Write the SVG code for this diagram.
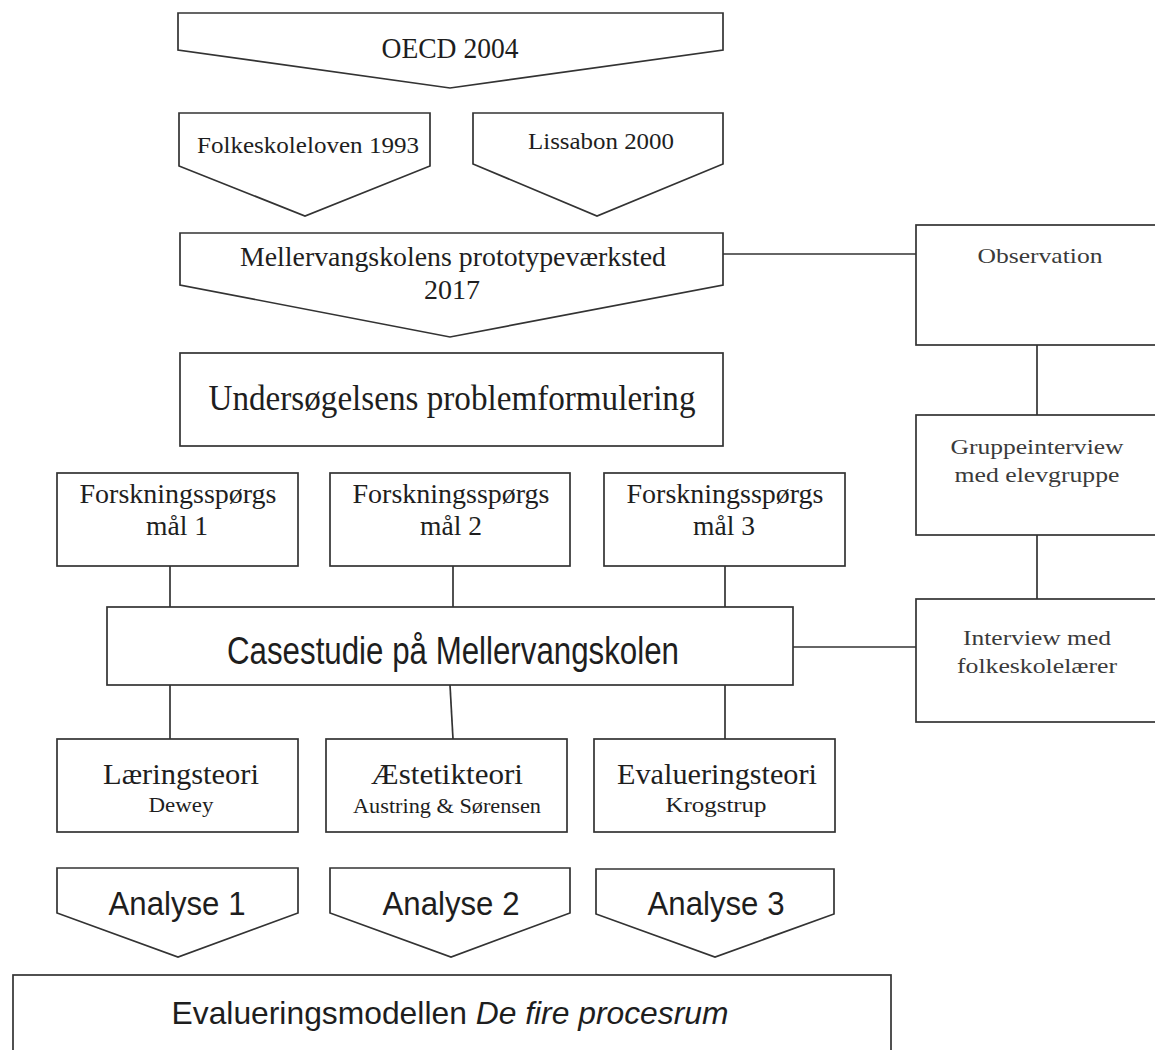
<svg xmlns="http://www.w3.org/2000/svg" width="1155" height="1050" viewBox="0 0 1155 1050">
  <style>
    .shape { fill: #ffffff; stroke: #333333; stroke-width: 1.7; stroke-linejoin: miter; }
    .link { fill: none; stroke: #333333; stroke-width: 1.7; }
    .serif { font-family: "Liberation Serif", "DejaVu Serif", serif; fill: #1e1e1e; text-anchor: middle; }
    .sans { font-family: "Liberation Sans", "DejaVu Sans", sans-serif; fill: #1e1e1e; text-anchor: middle; }
    .side { fill: #3a3a3a; }
  </style>
  <rect width="1155" height="1050" fill="#ffffff"/>

  <!-- connectors -->
  <g id="connectors">
    <line class="link" x1="723" y1="254" x2="916" y2="254"/>
    <line class="link" x1="1037" y1="345" x2="1037" y2="415"/>
    <line class="link" x1="1037" y1="535" x2="1037" y2="599"/>
    <line class="link" x1="793" y1="647" x2="916" y2="647"/>
    <line class="link" x1="170" y1="566" x2="170" y2="607"/>
    <line class="link" x1="453" y1="566" x2="453" y2="607"/>
    <line class="link" x1="725" y1="566" x2="725" y2="607"/>
    <line class="link" x1="170" y1="685" x2="170" y2="739"/>
    <line class="link" x1="450" y1="685" x2="453" y2="739"/>
    <line class="link" x1="725" y1="685" x2="725" y2="739"/>
  </g>

  <!-- top chevrons -->
  <g id="oecd">
    <polygon class="shape" points="178,13 723,13 723,50 450,88 178,50"/>
    <text class="serif" x="450" y="58" font-size="30" textLength="137" lengthAdjust="spacingAndGlyphs">OECD 2004</text>
  </g>
  <g id="folkeskoleloven">
    <polygon class="shape" points="179,113 430,113 430,166 305,216 179,166"/>
    <text class="serif" x="308" y="153" font-size="24" textLength="222" lengthAdjust="spacingAndGlyphs">Folkeskoleloven 1993</text>
  </g>
  <g id="lissabon">
    <polygon class="shape" points="473,113 723,113 723,164 597,216 473,164"/>
    <text class="serif" x="601" y="149" font-size="24" textLength="146" lengthAdjust="spacingAndGlyphs">Lissabon 2000</text>
  </g>
  <g id="prototypevaerksted">
    <polygon class="shape" points="180,233 723,233 723,285 450,337 180,285"/>
    <text class="serif" x="453" y="266" font-size="28" textLength="426" lengthAdjust="spacingAndGlyphs">Mellervangskolens prototypeværksted</text>
    <text class="serif" x="452" y="299" font-size="28">2017</text>
  </g>

  <!-- problem statement -->
  <g id="problemformulering">
    <rect class="shape" x="180" y="353" width="543" height="93"/>
    <text class="serif" x="452" y="410" font-size="35" textLength="487" lengthAdjust="spacingAndGlyphs">Undersøgelsens problemformulering</text>
  </g>

  <!-- empirical data column -->
  <g id="observation">
    <rect class="shape" x="916" y="225" width="260" height="120"/>
    <text class="serif side" x="1040" y="263" font-size="22" textLength="125" lengthAdjust="spacingAndGlyphs">Observation</text>
  </g>
  <g id="gruppeinterview">
    <rect class="shape" x="916" y="415" width="260" height="120"/>
    <text class="serif side" x="1037" y="454" font-size="22" textLength="173" lengthAdjust="spacingAndGlyphs">Gruppeinterview</text>
    <text class="serif side" x="1037" y="482" font-size="22" textLength="165" lengthAdjust="spacingAndGlyphs">med elevgruppe</text>
  </g>
  <g id="interview">
    <rect class="shape" x="916" y="599" width="260" height="123"/>
    <text class="serif side" x="1037" y="645" font-size="22" textLength="148" lengthAdjust="spacingAndGlyphs">Interview med</text>
    <text class="serif side" x="1037" y="673" font-size="22" textLength="160" lengthAdjust="spacingAndGlyphs">folkeskolelærer</text>
  </g>

  <!-- research questions -->
  <g id="spoergsmaal1">
    <rect class="shape" x="57" y="473" width="241" height="93"/>
    <text class="serif" x="178" y="503" font-size="28" textLength="197" lengthAdjust="spacingAndGlyphs">Forskningsspørgs</text>
    <text class="serif" x="177" y="535" font-size="28" textLength="62" lengthAdjust="spacingAndGlyphs">mål 1</text>
  </g>
  <g id="spoergsmaal2">
    <rect class="shape" x="330" y="473" width="240" height="93"/>
    <text class="serif" x="451" y="503" font-size="28" textLength="197" lengthAdjust="spacingAndGlyphs">Forskningsspørgs</text>
    <text class="serif" x="451" y="535" font-size="28" textLength="62" lengthAdjust="spacingAndGlyphs">mål 2</text>
  </g>
  <g id="spoergsmaal3">
    <rect class="shape" x="604" y="473" width="241" height="93"/>
    <text class="serif" x="725" y="503" font-size="28" textLength="197" lengthAdjust="spacingAndGlyphs">Forskningsspørgs</text>
    <text class="serif" x="724" y="535" font-size="28" textLength="62" lengthAdjust="spacingAndGlyphs">mål 3</text>
  </g>

  <!-- case study -->
  <g id="casestudie">
    <rect class="shape" x="107" y="607" width="686" height="78"/>
    <text class="sans" x="453" y="664" font-size="38" textLength="452" lengthAdjust="spacingAndGlyphs">Casestudie på Mellervangskolen</text>
  </g>

  <!-- theory boxes -->
  <g id="laeringsteori">
    <rect class="shape" x="57" y="739" width="241" height="93"/>
    <text class="serif" x="181" y="784" font-size="29" textLength="156" lengthAdjust="spacingAndGlyphs">Læringsteori</text>
    <text class="serif" x="181" y="812" font-size="22" textLength="65" lengthAdjust="spacingAndGlyphs">Dewey</text>
  </g>
  <g id="aestetikteori">
    <rect class="shape" x="326" y="739" width="241" height="93"/>
    <text class="serif" x="447" y="784" font-size="29" textLength="152" lengthAdjust="spacingAndGlyphs">Æstetikteori</text>
    <text class="serif" x="447" y="813" font-size="22" textLength="188" lengthAdjust="spacingAndGlyphs">Austring &amp; Sørensen</text>
  </g>
  <g id="evalueringsteori">
    <rect class="shape" x="594" y="739" width="241" height="93"/>
    <text class="serif" x="717" y="784" font-size="29" textLength="200" lengthAdjust="spacingAndGlyphs">Evalueringsteori</text>
    <text class="serif" x="716" y="812" font-size="22" textLength="101" lengthAdjust="spacingAndGlyphs">Krogstrup</text>
  </g>

  <!-- analyses -->
  <g id="analyse1">
    <polygon class="shape" points="57,868 298,868 298,913 178,957 57,913"/>
    <text class="sans" x="177" y="915" font-size="34" textLength="137" lengthAdjust="spacingAndGlyphs">Analyse 1</text>
  </g>
  <g id="analyse2">
    <polygon class="shape" points="330,868 570,868 570,913 451,957 330,913"/>
    <text class="sans" x="451" y="915" font-size="34" textLength="137" lengthAdjust="spacingAndGlyphs">Analyse 2</text>
  </g>
  <g id="analyse3">
    <polygon class="shape" points="596,869 834,869 834,914 715,957 596,914"/>
    <text class="sans" x="716" y="915" font-size="34" textLength="137" lengthAdjust="spacingAndGlyphs">Analyse 3</text>
  </g>

  <!-- evaluation model -->
  <g id="evalueringsmodellen">
    <rect class="shape" x="13" y="975" width="878" height="90"/>
    <text class="sans" x="450" y="1024" font-size="32" textLength="557" lengthAdjust="spacingAndGlyphs">Evalueringsmodellen <tspan font-style="italic">De fire procesrum</tspan></text>
  </g>
</svg>
